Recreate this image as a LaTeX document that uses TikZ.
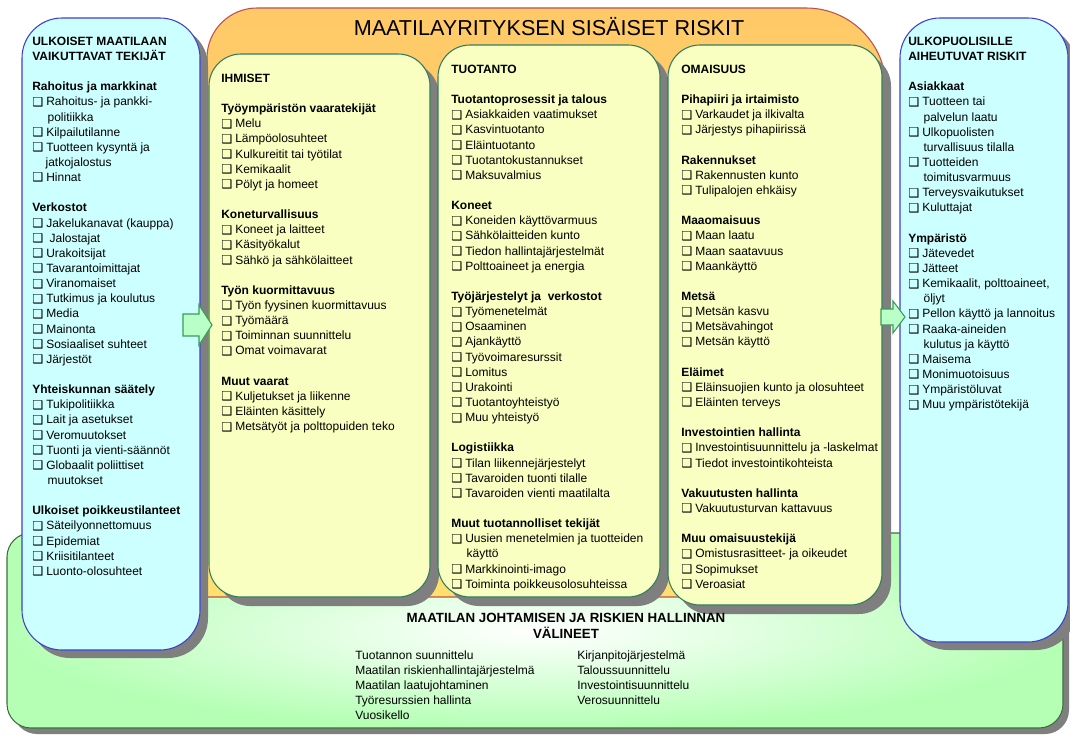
\documentclass[tikz,border=0pt]{standalone}
\usepackage{fontspec}
\setmainfont{Liberation Sans}
\newfontfamily\dv{DejaVu Sans}
\definecolor{cyanfill}{HTML}{CCFFFF}
\definecolor{cyanline}{HTML}{3F3FD0}
\definecolor{yelfill}{HTML}{F8FFC0}
\definecolor{yelline}{HTML}{2E7D5E}
\definecolor{orafill}{HTML}{FFDB82}
\definecolor{oraline}{HTML}{C0504D}
\definecolor{grnfill}{HTML}{B5FFB5}
\definecolor{grnline}{HTML}{3C6E3C}
\definecolor{shd}{HTML}{7F7F7F}
\definecolor{arrfill}{HTML}{B8FFC8}
\definecolor{arrline}{HTML}{3C9B5A}
\newcommand\cb{\makebox[10.5pt][l]{\raisebox{-0.3pt}{\dv\fontsize{9.2}{9.2}\selectfont ❑}}}
\newcommand\ind{\hspace*{11.5pt}}
\newcommand\bl{\mbox{}}
\newcommand\fst{\rule{0pt}{9pt}}
\begin{document}
\begin{tikzpicture}[x=0.75pt,y=-0.75pt,
  txt/.style={anchor=north west, inner sep=0pt, align=left, font=\fontsize{9}{11.36}\selectfont},
  shadow/.style={fill=shd, draw=none},
  cyanbox/.style={fill=cyanfill, draw=cyanline, line width=0.8pt, rounded corners=30pt},
  yelbox/.style={fill=yelfill, draw=yelline, line width=0.8pt, rounded corners=24pt},
  blockarrow/.style={fill=arrfill, draw=arrline, line width=0.8pt, line join=miter}]
\useasboundingbox (0,0) rectangle (1070,738);
\fill[white] (0,0) rectangle (1070,738);
% green bottom box
\fill[shadow, rounded corners=18pt] (13,539) rectangle (1069,734);
\draw[draw=grnline, line width=0.8pt, rounded corners=18pt, shading=radial, inner color=white, outer color=grnfill] (7,533) rectangle (1063,728);
% orange big box
\draw[draw=oraline, line width=0.8pt, top color=orafill!80!orange, bottom color=orafill!85!yellow]
  (207,597) -- (207,58) arc[start angle=180, end angle=90, radius=37.5pt] -- (806,8)
  arc[start angle=90, end angle=0, radius=60pt] -- (886,597) -- cycle;
% cyan boxes
\fill[shadow, rounded corners=30pt] (30,26) rectangle (208,658);
\draw[cyanbox] (22,18) rectangle (200,650);
\fill[shadow, rounded corners=30pt] (908,26) rectangle (1076,650);
\draw[cyanbox] (900,18) rectangle (1068,642);
% inner yellow boxes
\fill[shadow, rounded corners=24pt] (218,63) rectangle (439,606);
\draw[yelbox] (209,54) rectangle (430,597);
\fill[shadow, rounded corners=24pt] (447,54) rectangle (669,606);
\draw[yelbox] (438,45) rectangle (660,597);
\fill[shadow, rounded corners=24pt] (677,54) rectangle (891,614);
\draw[yelbox] (668,45) rectangle (882,605);
% arrows
\draw[blockarrow] (183,314) -- (199,314) -- (199,305) -- (212,325) -- (199,345) -- (199,336) -- (183,336) -- cycle;
\draw[blockarrow] (881,309) -- (893,309) -- (893,301) -- (905,317) -- (893,333) -- (893,325) -- (881,325) -- cycle;
% title
\node (title) at (549,27) {\fontsize{16.2}{18}\selectfont MAATILAYRITYKSEN SISÄISET RISKIT};
% left column
\node[txt] (left) at (32,33) {\fst\textbf{ULKOISET MAATILAAN}\\
\textbf{VAIKUTTAVAT TEKIJÄT}\\
\bl\\
\textbf{Rahoitus ja markkinat}\\
\cb Rahoitus- ja pankki-\\
\ind politiikka\\
\cb Kilpailutilanne\\
\cb Tuotteen kysyntä ja\\
\hspace*{10pt}jatkojalostus\\
\cb Hinnat\\
\bl\\
\textbf{Verkostot}\\
\cb Jakelukanavat (kauppa)\\
\cb\ Jalostajat\\
\cb Urakoitsijat\\
\cb Tavarantoimittajat\\
\cb Viranomaiset\\
\cb Tutkimus ja koulutus\\
\cb Media\\
\cb Mainonta\\
\cb Sosiaaliset suhteet\\
\cb Järjestöt\\
\bl\\
\textbf{Yhteiskunnan säätely}\\
\cb Tukipolitiikka\\
\cb Lait ja asetukset\\
\cb Veromuutokset\\
\cb Tuonti ja vienti-säännöt\\
\cb Globaalit poliittiset\\
\ind muutokset\\
\bl\\
\textbf{Ulkoiset poikkeustilanteet}\\
\cb Säteilyonnettomuus\\
\cb Epidemiat\\
\cb Kriisitilanteet\\
\cb Luonto-olosuhteet};
% IHMISET
\node[txt] (ihmiset) at (221,70) {\fst\textbf{IHMISET}\\
\bl\\
\textbf{Työympäristön vaaratekijät}\\
\cb Melu\\
\cb Lämpöolosuhteet\\
\cb Kulkureitit tai työtilat\\
\cb Kemikaalit\\
\cb Pölyt ja homeet\\
\bl\\
\textbf{Koneturvallisuus}\\
\cb Koneet ja laitteet\\
\cb Käsityökalut\\
\cb Sähkö ja sähkölaitteet\\
\bl\\
\textbf{Työn kuormittavuus}\\
\cb Työn fyysinen kuormittavuus\\
\cb Työmäärä\\
\cb Toiminnan suunnittelu\\
\cb Omat voimavarat\\
\bl\\
\textbf{Muut vaarat}\\
\cb Kuljetukset ja liikenne\\
\cb Eläinten käsittely\\
\cb Metsätyöt ja polttopuiden teko};
% TUOTANTO
\node[txt] (tuotanto) at (451,61) {\fst\textbf{TUOTANTO}\\
\bl\\
\textbf{Tuotantoprosessit ja talous}\\
\cb Asiakkaiden vaatimukset\\
\cb Kasvintuotanto\\
\cb Eläintuotanto\\
\cb Tuotantokustannukset\\
\cb Maksuvalmius\\
\bl\\
\textbf{Koneet}\\
\cb Koneiden käyttövarmuus\\
\cb Sähkölaitteiden kunto\\
\cb Tiedon hallintajärjestelmät\\
\cb Polttoaineet ja energia\\
\bl\\
\textbf{Työjärjestelyt ja\ \ verkostot}\\
\cb Työmenetelmät\\
\cb Osaaminen\\
\cb Ajankäyttö\\
\cb Työvoimaresurssit\\
\cb Lomitus\\
\cb Urakointi\\
\cb Tuotantoyhteistyö\\
\cb Muu yhteistyö\\
\bl\\
\textbf{Logistiikka}\\
\cb Tilan liikennejärjestelyt\\
\cb Tavaroiden tuonti tilalle\\
\cb Tavaroiden vienti maatilalta\\
\bl\\
\textbf{Muut tuotannolliset tekijät}\\
\cb Uusien menetelmien ja tuotteiden\\
\ind käyttö\\
\cb Markkinointi-imago\\
\cb Toiminta poikkeusolosuhteissa};
% OMAISUUS
\node[txt] (omaisuus) at (681,61) {\fst\textbf{OMAISUUS}\\
\bl\\
\textbf{Pihapiiri ja irtaimisto}\\
\cb Varkaudet ja ilkivalta\\
\cb Järjestys pihapiirissä\\
\bl\\
\textbf{Rakennukset}\\
\cb Rakennusten kunto\\
\cb Tulipalojen ehkäisy\\
\bl\\
\textbf{Maaomaisuus}\\
\cb Maan laatu\\
\cb Maan saatavuus\\
\cb Maankäyttö\\
\bl\\
\textbf{Metsä}\\
\cb Metsän kasvu\\
\cb Metsävahingot\\
\cb Metsän käyttö\\
\bl\\
\textbf{Eläimet}\\
\cb Eläinsuojien kunto ja olosuhteet\\
\cb Eläinten terveys\\
\bl\\
\textbf{Investointien hallinta}\\
\cb Investointisuunnittelu ja -laskelmat\\
\cb Tiedot investointikohteista\\
\bl\\
\textbf{Vakuutusten hallinta}\\
\cb Vakuutusturvan kattavuus\\
\bl\\
\textbf{Muu omaisuustekijä}\\
\cb Omistusrasitteet- ja oikeudet\\
\cb Sopimukset\\
\cb Veroasiat};
% right column
\node[txt] (right) at (908,33) {\fst\textbf{ULKOPUOLISILLE}\\
\textbf{AIHEUTUVAT RISKIT}\\
\bl\\
\textbf{Asiakkaat}\\
\cb Tuotteen tai\\
\ind palvelun laatu\\
\cb Ulkopuolisten\\
\ind turvallisuus tilalla\\
\cb Tuotteiden\\
\ind toimitusvarmuus\\
\cb Terveysvaikutukset\\
\cb Kuluttajat\\
\bl\\
\textbf{Ympäristö}\\
\cb Jätevedet\\
\cb Jätteet\\
\cb Kemikaalit, polttoaineet,\\
\ind öljyt\\
\cb Pellon käyttö ja lannoitus\\
\cb Raaka-aineiden\\
\ind kulutus ja käyttö\\
\cb Maisema\\
\cb Monimuotoisuus\\
\cb Ympäristöluvat\\
\cb Muu ympäristötekijä};
% bottom
\node[anchor=north, inner sep=0pt, align=center, font=\fontsize{10}{12}\selectfont\bfseries] (btitle) at (566,610) {\fst MAATILAN JOHTAMISEN JA RISKIEN HALLINNAN\\VÄLINEET};
\node[txt] (bleft) at (355,647) {\fst Tuotannon suunnittelu\\
Maatilan riskienhallintajärjestelmä\\
Maatilan laatujohtaminen\\
Työresurssien hallinta\\
Vuosikello};
\node[txt] (bright) at (577,647) {\fst Kirjanpitojärjestelmä\\
Taloussuunnittelu\\
Investointisuunnittelu\\
Verosuunnittelu};
\end{tikzpicture}
\end{document}
